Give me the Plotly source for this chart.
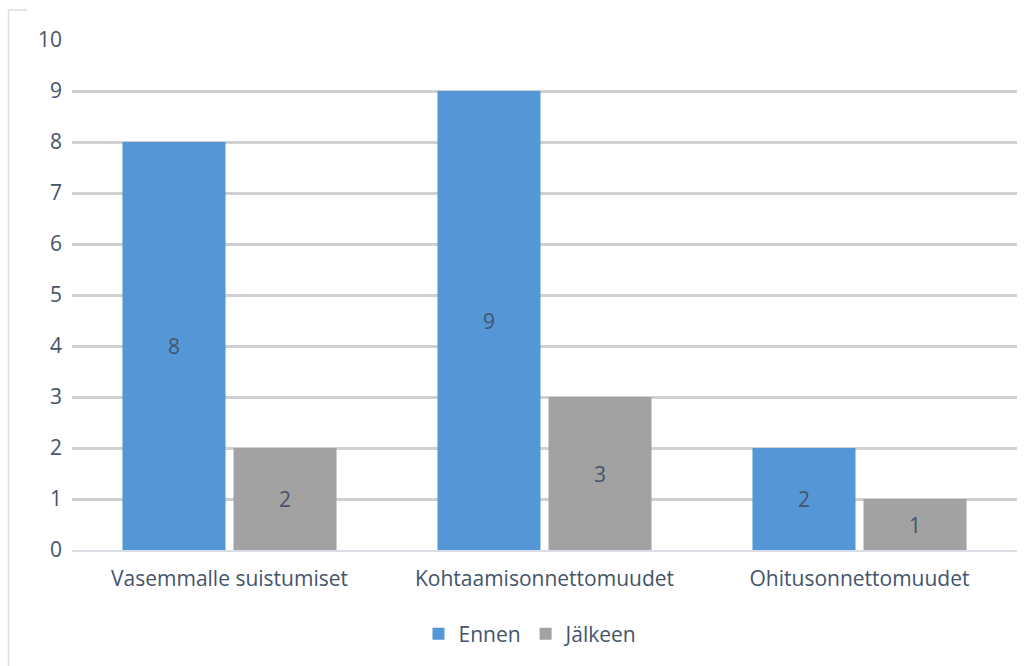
import plotly.graph_objects as go

categories = ["Vasemmalle suistumiset", "Kohtaamisonnettomuudet", "Ohitusonnettomuudet"]
ennen = [8, 9, 2]
jalkeen = [2, 3, 1]
tick_vals = [0, 1, 2, 3, 4, 5, 6, 7, 8, 9, 10]

text_color = "#44546A"
font_family = "Open Sans, sans-serif"
fs = 21

fig = go.Figure()
fig.add_trace(go.Bar(
    x=categories, y=ennen, name="Ennen",
    marker=dict(color="#5596D6", line=dict(width=0)),
    text=ennen, textposition="inside", insidetextanchor="middle",
    textfont=dict(color=text_color, size=fs, family=font_family),
))
fig.add_trace(go.Bar(
    x=categories, y=jalkeen, name="Jälkeen",
    marker=dict(color="#A2A2A2", line=dict(width=0)),
    text=jalkeen, textposition="inside", insidetextanchor="middle",
    textfont=dict(color=text_color, size=fs, family=font_family),
))

W, H = 1029, 666
l, r, t, b = 72, 12, 40, 116
pw, ph = W - l - r, H - t - b

def px_x(x):
    return (x - l) / pw

def px_y(y):
    return (H - b - y) / ph

fig.update_layout(
    width=W, height=H,
    margin=dict(l=l, r=r, t=t, b=b),
    paper_bgcolor="white", plot_bgcolor="white",
    barmode="group", bargap=0.295, bargroupgap=0.072,
    font=dict(family=font_family, color=text_color, size=fs),
    showlegend=True,
    legend=dict(orientation="h", x=px_x(531), xanchor="center", y=px_y(634), yanchor="middle",
                font=dict(size=fs, color=text_color), itemwidth=30, traceorder="normal"),
    xaxis=dict(showgrid=False, showline=True, linecolor="#D9DEE6", linewidth=2,
               tickfont=dict(size=fs, color=text_color), ticks="", ticklabelstandoff=9),
    yaxis=dict(range=[0, 10], tickvals=tick_vals, showgrid=True, gridcolor="#D0D0D0", gridwidth=3,
               zeroline=False, showline=False, ticks="", tickfont=dict(size=fs, color=text_color),
               ticklabelstandoff=9),
    shapes=[
        dict(type="line", xref="paper", yref="paper", x0=px_x(8.5), x1=px_x(8.5),
             y0=px_y(10), y1=px_y(H), line=dict(color="#D9DEE6", width=1.5)),
        dict(type="line", xref="paper", yref="paper", x0=px_x(8.5), x1=px_x(27),
             y0=px_y(10), y1=px_y(10), line=dict(color="#D9DEE6", width=1.5)),
    ],
)

fig.write_html("out.html")
